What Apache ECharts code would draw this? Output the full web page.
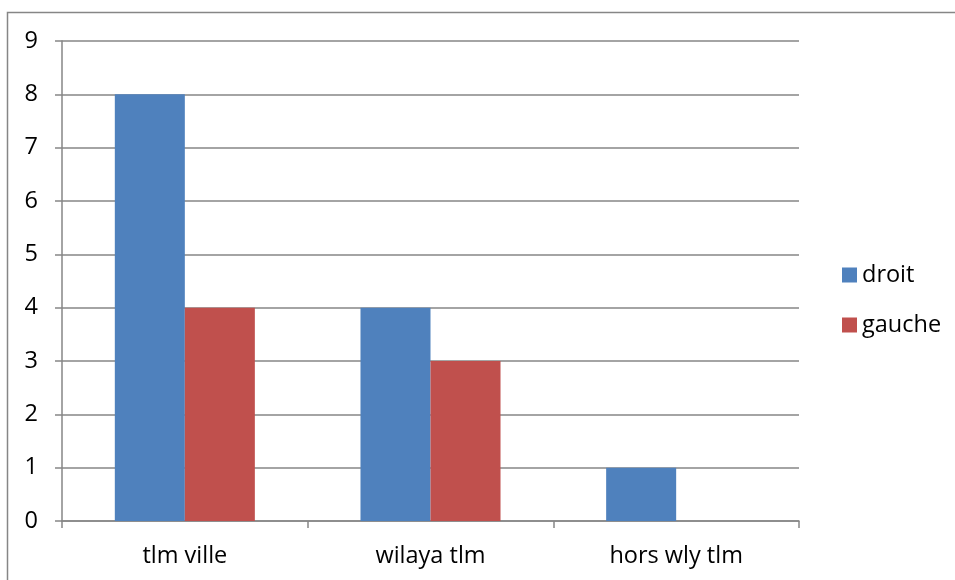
<!DOCTYPE html>
<html>
<head>
<meta charset="utf-8">
<script src="https://cdn.jsdelivr.net/npm/echarts@6/dist/echarts.min.js"></script>
<style>
  html, body { margin: 0; padding: 0; background: #fff; }
  #chart { width: 955px; height: 580px; }
</style>
</head>
<body>
<div id="chart"></div>
<script>
const categories = ['tlm ville', 'wilaya tlm', 'hors wly tlm'];
const droitValues = [8, 4, 1];
const gaucheValues = [4, 3, 0];
const yTicks = [0, 1, 2, 3, 4, 5, 6, 7, 8, 9];

const FONT = '"Open Sans", "Noto Sans", sans-serif';
const GREY = '#868686';
const FS = 23.5;

const chart = echarts.init(document.getElementById('chart'), null, { renderer: 'canvas' });

chart.setOption({
  animation: false,
  backgroundColor: '#ffffff',
  graphic: [{
    type: 'rect',
    shape: { x: 7.5, y: 12.5, width: 1000, height: 700 },
    style: { fill: 'none', stroke: GREY, lineWidth: 1.5 },
    silent: true
  }],
  legend: {
    orient: 'vertical',
    left: 842,
    top: 263,
    padding: 0,
    itemWidth: 15,
    itemHeight: 15,
    itemGap: 26,
    icon: 'rect',
    textStyle: { fontFamily: FONT, fontSize: FS, lineHeight: 24, color: '#000' },
    data: ['droit', 'gauche']
  },
  grid: { left: 62, right: 156, top: 41, bottom: 59, containLabel: false },
  xAxis: {
    type: 'category',
    data: categories,
    axisLine: { lineStyle: { color: GREY, width: 1.5 } },
    axisTick: { show: true, length: 7, lineStyle: { color: GREY, width: 1.5 } },
    axisLabel: { fontFamily: FONT, fontSize: FS, color: '#000', margin: 23 },
    splitLine: { show: false }
  },
  yAxis: {
    type: 'value',
    min: yTicks[0],
    max: yTicks[yTicks.length - 1],
    interval: 1,
    axisLine: { show: true, lineStyle: { color: GREY, width: 1.5 } },
    axisTick: { show: true, length: 7, lineStyle: { color: GREY, width: 1.5 } },
    axisLabel: { fontFamily: FONT, fontSize: FS, color: '#000', margin: 24 },
    splitLine: { show: true, lineStyle: { color: GREY, width: 1.5 } }
  },
  series: [
    {
      name: 'droit',
      type: 'bar',
      data: droitValues,
      barGap: '0%',
      barCategoryGap: '43%',
      itemStyle: { color: '#4f81bd' }
    },
    {
      name: 'gauche',
      type: 'bar',
      data: gaucheValues,
      itemStyle: { color: '#c0504d' }
    }
  ]
});
</script>
</body>
</html>
